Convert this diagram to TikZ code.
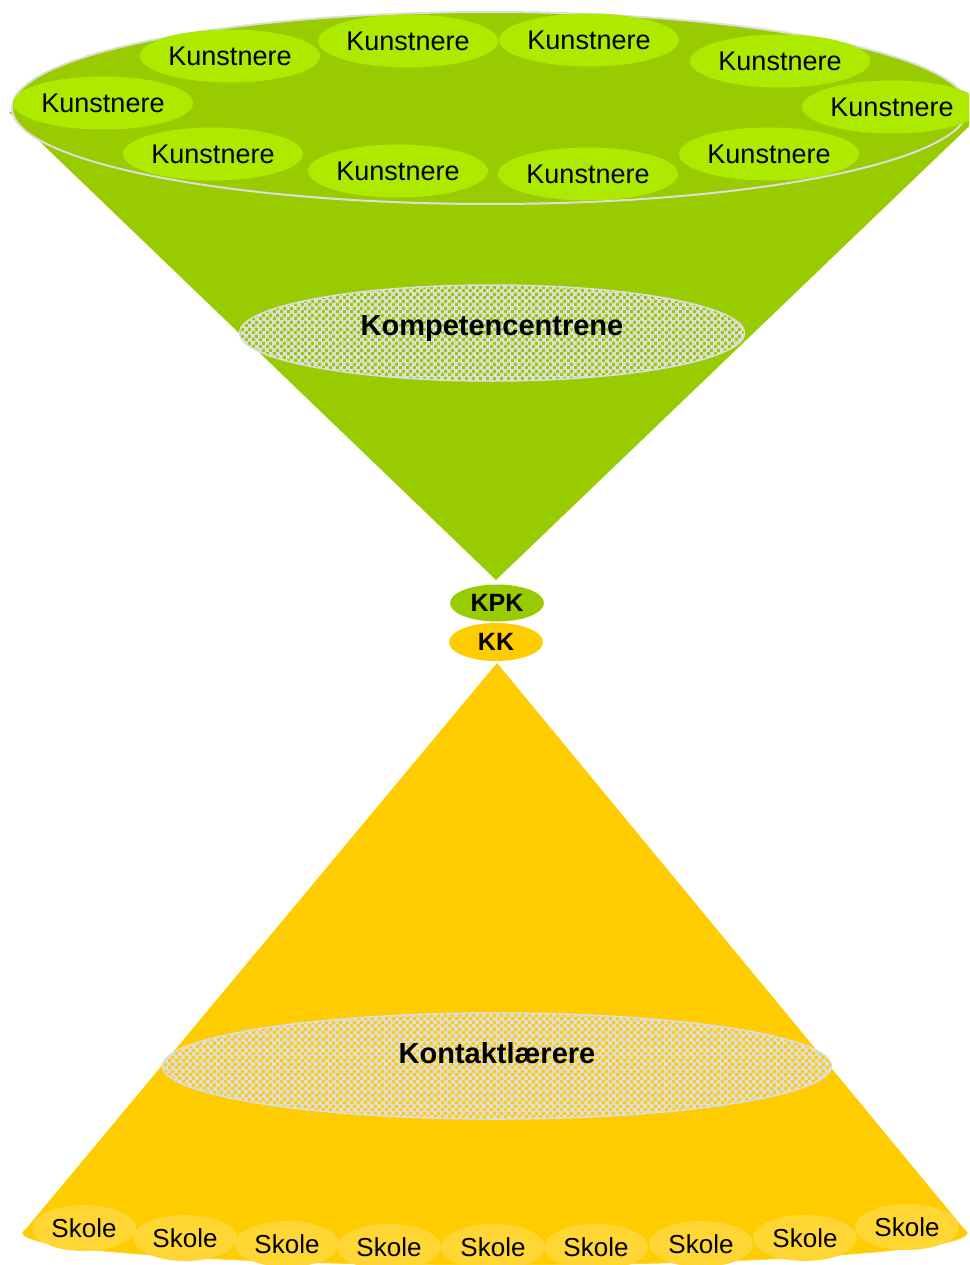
\documentclass[tikz,border=0pt]{standalone}
\usepackage{fontspec}
\setmainfont{Liberation Sans}
\usetikzlibrary{shapes.geometric,patterns.meta}
\definecolor{ConeGreen}{HTML}{99CC00}
\definecolor{LightGreen}{HTML}{AEEA00}
\definecolor{ConeYellow}{HTML}{FFCC00}
\definecolor{LightYellow}{HTML}{FFD633}
\definecolor{RimGray}{HTML}{DDDDDD}
\tikzdeclarepattern{
  name=SquareDots,
  type=uncolored,
  bottom left={(0pt,0pt)},
  top right={(7pt,7pt)},
  tile size={(7pt,7pt)},
  code={
    \fill (0pt,0pt) rectangle (3.3pt,3.3pt);
    \fill (3.5pt,3.5pt) rectangle (6.8pt,6.8pt);
  }
}
\tikzstyle{RimNode}=[ellipse, fill=ConeGreen, draw=RimGray, line width=2pt, inner sep=0pt, minimum width=956pt, minimum height=192pt]
\tikzstyle{BaseNode}=[ellipse, fill=ConeYellow, draw=LightYellow, line width=1pt, inner sep=0pt, minimum width=944pt, minimum height=64pt]
\tikzstyle{KunstNode}=[ellipse, fill=LightGreen, inner sep=0pt, minimum width=180pt, minimum height=53pt, font=\fontsize{27}{31}\selectfont]
\tikzstyle{SkoleNode}=[ellipse, fill=LightYellow, inner sep=0pt, minimum width=104pt, minimum height=46pt, font=\fontsize{26}{30}\selectfont]
\tikzstyle{LevelNode}=[ellipse, draw=RimGray, line width=1.5pt, preaction={fill=RimGray}, pattern=SquareDots, inner sep=0pt, text height=21pt, font=\bfseries\fontsize{29}{33}\selectfont]
\tikzstyle{GreenLevel}=[LevelNode, pattern color=ConeGreen]
\tikzstyle{YellowLevel}=[LevelNode, pattern color=ConeYellow]
\tikzstyle{HubNode}=[ellipse, inner sep=0pt, minimum width=94pt, minimum height=37pt, font=\bfseries\fontsize{25}{28}\selectfont]

\begin{document}
\begin{tikzpicture}[x=1pt,y=-1pt]
\useasboundingbox (0,0) rectangle (969,1265);
\clip (0,0) rectangle (969,1265);

% upper cone
\coordinate (GreenLeft) at (9,112);
\coordinate (GreenRight) at (984,112);
\coordinate (GreenApex) at (496,580);
\fill[ConeGreen] (GreenLeft) -- (GreenRight) -- (GreenApex) -- cycle;
\node[RimNode](RIM) at (490,108) {};

\node[KunstNode](KUN1) at (230,56) {Kunstnere};
\node[KunstNode](KUN2) at (408,41) {Kunstnere};
\node[KunstNode](KUN3) at (589,40) {Kunstnere};
\node[KunstNode](KUN4) at (780,61) {Kunstnere};
\node[KunstNode](KUN5) at (103,103) {Kunstnere};
\node[KunstNode](KUN6) at (892,107) {Kunstnere};
\node[KunstNode](KUN7) at (213,154) {Kunstnere};
\node[KunstNode](KUN8) at (398,171) {Kunstnere};
\node[KunstNode](KUN9) at (588,174) {Kunstnere};
\node[KunstNode](KUN10) at (769,154) {Kunstnere};

\node[GreenLevel, minimum width=505pt, minimum height=96pt, text depth=17pt](KOMP) at (492,333) {Kompetencentrene};

% middle
\node[HubNode, fill=ConeGreen](KPK) at (497,603) {KPK};
\node[HubNode, fill=ConeYellow, minimum height=38pt](KK) at (496,642) {KK};

% lower cone
\coordinate (YellowApex) at (497,663);
\node[BaseNode](BASE) at (495,1233) {};
\fill[ConeYellow] (YellowApex) -- (BASE.west) -- (BASE.east) -- cycle;

\node[YellowLevel, minimum width=669pt, minimum height=106pt, text depth=27pt](KONT) at (497,1066) {Kontaktlærere};

\node[SkoleNode](SKO1) at (84,1228) {Skole};
\node[SkoleNode](SKO2) at (185,1238) {Skole};
\node[SkoleNode](SKO3) at (287,1244) {Skole};
\node[SkoleNode](SKO4) at (389,1247) {Skole};
\node[SkoleNode](SKO5) at (493,1247) {Skole};
\node[SkoleNode](SKO6) at (596,1247) {Skole};
\node[SkoleNode](SKO7) at (701,1244) {Skole};
\node[SkoleNode](SKO8) at (805,1238) {Skole};
\node[SkoleNode](SKO9) at (907,1227) {Skole};
\end{tikzpicture}
\end{document}
